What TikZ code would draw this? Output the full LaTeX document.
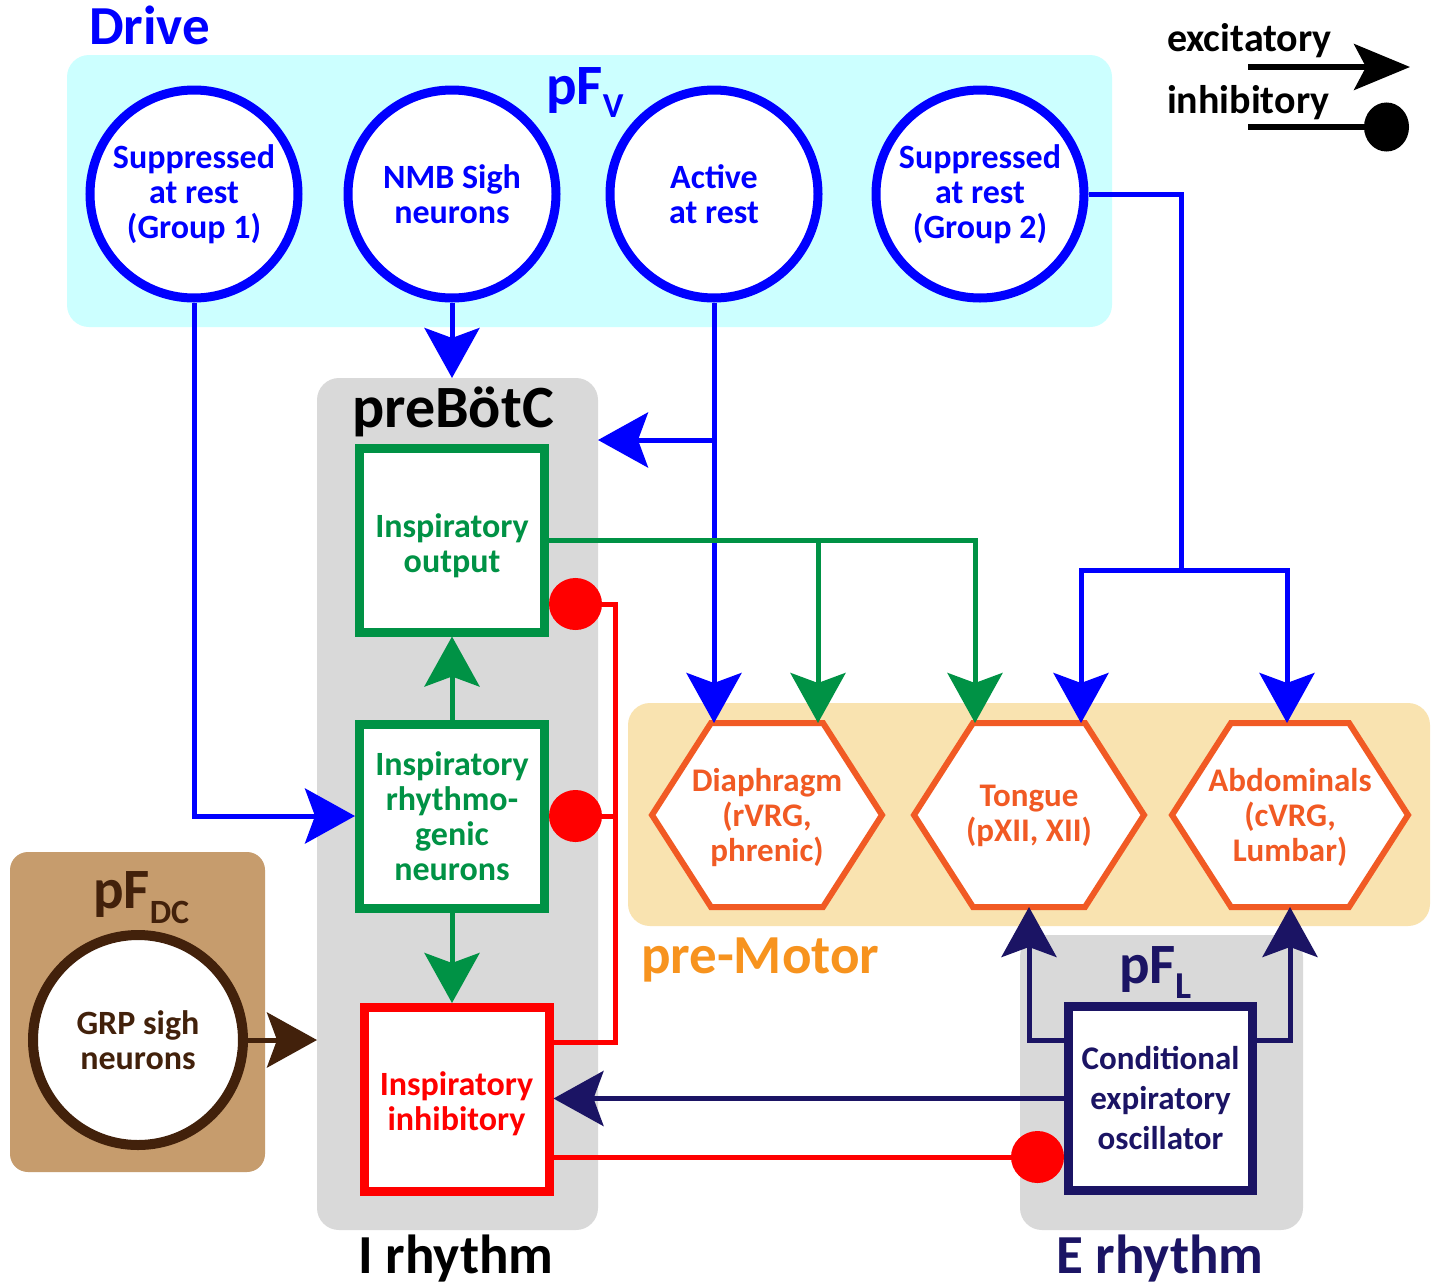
\documentclass[tikz,border=0pt]{standalone}
\usepackage{fontspec}
\setmainfont{Carlito}
\usetikzlibrary{arrows.meta}
\definecolor{cyanbg}{HTML}{CCFFFF}
\definecolor{grn}{HTML}{009245}
\definecolor{hexor}{HTML}{F15A24}
\definecolor{pmbg}{HTML}{F9E3B0}
\definecolor{pmor}{HTML}{F7931E}
\definecolor{grayb}{HTML}{D9D9D9}
\definecolor{navy}{HTML}{1B1464}
\definecolor{brbg}{HTML}{C69C6D}
\definecolor{dbrown}{HTML}{42210B}
\newcommand{\myfs}[2]{\fontsize{#1}{#2}\selectfont\bfseries}
\newcommand{\hexdraw}[1]{\draw[hexline] (#1.west) -- ([xshift=59pt]#1.north west) -- ([xshift=-59pt]#1.north east) -- (#1.east) -- ([xshift=-59pt]#1.south east) -- ([xshift=59pt]#1.south west) -- cycle;}
\tikzset{
  panel/.style={rectangle, rounded corners=22pt, inner sep=0pt, outer sep=0pt, anchor=north west, draw=none},
  circ/.style={circle, draw=blue, line width=9pt, fill=white, minimum size=208pt, inner sep=0pt, text=blue, font=\myfs{34}{35}, align=center},
  bx/.style={rectangle, line width=9pt, fill=white, minimum width=185pt, minimum height=184pt, inner sep=0pt, align=center, font=\myfs{34}{35}},
  bxtext/.style={inner sep=0pt, align=center, font=\myfs{34}{35}},
  hexn/.style={rectangle, draw=none, minimum width=230pt, minimum height=184pt, inner sep=0pt, outer sep=0pt},
  hextext/.style={text=hexor, font=\myfs{33}{35}, align=center, inner sep=0pt},
  hexline/.style={draw=hexor, fill=white, line width=6pt, line join=miter},
  conn/.style={line width=5pt},
  exc/.style={-{Stealth[length=50pt,width=55pt,inset=10pt]}},
  inhib/.style={-{Circle[length=53pt,width=52pt]}},
  lbl/.style={inner sep=0pt, outer sep=0pt},
}
\begin{document}
\begin{tikzpicture}[x=1pt,y=-1pt]
\useasboundingbox (0,0) rectangle (1434,1285);
\fill[white] (0,0) rectangle (1434,1285);

% panels
\node[panel, fill=cyanbg, minimum width=1045pt, minimum height=272pt] (pfv) at (67,55) {};
\node[panel, fill=grayb, minimum width=281pt, minimum height=852pt] (pre) at (317,378) {};
\node[panel, fill=pmbg, minimum width=802pt, minimum height=223pt] (pmot) at (628,703) {};
\node[panel, fill=grayb, minimum width=283pt, minimum height=295pt] (pfl) at (1020,935) {};
\node[panel, fill=brbg, minimum width=255pt, minimum height=320pt, rounded corners=18pt] (pfdc) at (10,852) {};

% labels
\node[lbl, anchor=base west, text=blue, font=\myfs{55}{60}] (drive) at (89,44) {Drive};
\node[lbl, anchor=base west, text=blue, font=\myfs{57}{60}] (pfvl) at (546,104) {pF\raisebox{-13pt}{\myfs{35}{35}V}};
\node[lbl, anchor=base, font=\myfs{60}{62}] (prel) at (453,427) {preBötC};
\node[lbl, anchor=base west, text=pmor, font=\myfs{55}{60}] (pml) at (641,973) {pre-Motor};
\node[lbl, anchor=base west, text=navy, font=\myfs{57}{60}] (pfll) at (1119,983) {pF\raisebox{-15pt}{\myfs{38}{38}L}};
\node[lbl, anchor=base west, text=dbrown, font=\myfs{57}{60}] (pfdcl) at (93,908) {pF\raisebox{-15pt}{\myfs{34}{34}DC}};
\node[lbl, anchor=base, font=\myfs{55}{60}] (irh) at (456,1273) {I rhythm};
\node[lbl, anchor=base, text=navy, font=\myfs{55}{60}] (erh) at (1160,1273) {E rhythm};

% legend
\node[lbl, anchor=base west, font=\myfs{40}{40}] (lexc) at (1167,51) {excitatory};
\node[lbl, anchor=base west, font=\myfs{40}{40}] (linh) at (1167,113) {inhibitory};
\coordinate (la1) at (1248,67);
\coordinate (la2) at (1410,67);
\coordinate (li1) at (1248,127);
\coordinate (li2) at (1409,127);
\draw[line width=5.5pt, -{Stealth[length=56pt,width=46pt,inset=12pt]}] (la1) -- (la2);
\draw[line width=5.5pt, -{Circle[length=45pt,width=49pt]}] (li1) -- (li2);

% drive circles
\node[circ] (c1) at (194,194) {Suppressed\\at rest\\(Group 1)};
\node[circ] (c2) at (452,194) {NMB Sigh\\neurons};
\node[circ] (c3) at (714,194) {Active\\at rest};
\node[circ] (c4) at (980,194) {Suppressed\\at rest\\(Group 2)};

% preBotC boxes
\node[bx, draw=grn] (out) at (452,540) {};
\node[bxtext, text=grn] (outt) at ([yshift=-6pt]out) {Inspiratory\\output};
\node[bx, draw=grn, text=grn] (rhy) at (452,816) {Inspiratory\\rhythmo-\\genic\\neurons};
\node[bx, draw=red] (inh) at (456.5,1099.5) {};
\node[bxtext, text=red] (inht) at ([yshift=-4pt]inh) {Inspiratory\\inhibitory};

% pF_L box
\node[bx, draw=navy, text=navy, minimum width=184pt, font=\myfs{33}{40}] (cond) at (1160.5,1098.5) {Conditional\\expiratory\\oscillator};

% GRP
\node[circ, draw=dbrown, text=dbrown, line width=10pt, minimum size=210pt] (grp) at (138,1040) {GRP sigh\\neurons};

% hexagons
\node[hexn] (dia) at (767,815) {};
\node[hexn] (ton) at (1029,815) {};
\node[hexn, minimum width=236pt] (abd) at (1290,815) {};
\hexdraw{dia}
\hexdraw{ton}
\hexdraw{abd}
\node[hextext] (diat) at ([yshift=-3pt]dia) {Diaphragm\\(rVRG,\\phrenic)};
\node[hextext] (tont) at ([yshift=-1pt]ton) {Tongue\\(pXII, XII)};
\node[hextext] (abdt) at ([yshift=-2pt]abd) {Abdominals\\(cVRG,\\Lumbar)};

% coordinates
\coordinate (jA) at (714,440);
\coordinate (jB) at (1181,570);
\coordinate (gD) at (818,540);
\coordinate (rJ) at (615,604);
\coordinate (rK) at (615,816);
\coordinate (rA) at ([yshift=57.5pt]inh.east);
\coordinate (rM) at ([yshift=-57.5pt]inh.east);
\coordinate (nA) at ([yshift=58.5pt]cond.west);
\coordinate (nB) at ([yshift=58.5pt]cond.east);

% blue connectors
\draw[conn, blue, exc] (c1.south) |- (rhy.west);
\draw[conn, blue, exc] (c2.south) -- (c2.south |- pre.north);
\draw[conn, blue, exc] (c3.south) -- (c3.south |- dia.north);
\draw[conn, blue, exc] (jA) -- (jA -| pre.east);
\draw[conn, blue] (c4.east) -| (jB);
\draw[conn, blue, exc] (jB) -| ([xshift=52pt]ton.north);
\draw[conn, blue, exc] (jB) -| ([xshift=-3pt]abd.north);

% green connectors
\draw[conn, grn, exc] (out.east) -| ([xshift=-54pt]ton.north);
\draw[conn, grn, exc] (gD) -- (gD |- dia.north);
\draw[conn, grn, exc] (rhy.north) -- (out.south);
\draw[conn, grn, exc] (rhy.south) -- (rhy.south |- inh.north);

% red connectors
\draw[conn, red, inhib] (rA) -| (rJ) -- (rJ -| out.east);
\draw[conn, red, inhib] (rK) -- (rK -| rhy.east);
\draw[conn, red, inhib] (rM) -- (rM -| cond.west);

% navy connectors
\draw[conn, navy, exc] (cond.west) -- (cond.west -| inh.east);
\draw[conn, navy, exc] (nA) -| (ton.south);
\draw[conn, navy, exc] (nB) -| (abd.south);

% brown connector
\draw[conn, dbrown, exc] (grp.east) -- (grp.east -| pre.west);
\end{tikzpicture}
\end{document}
